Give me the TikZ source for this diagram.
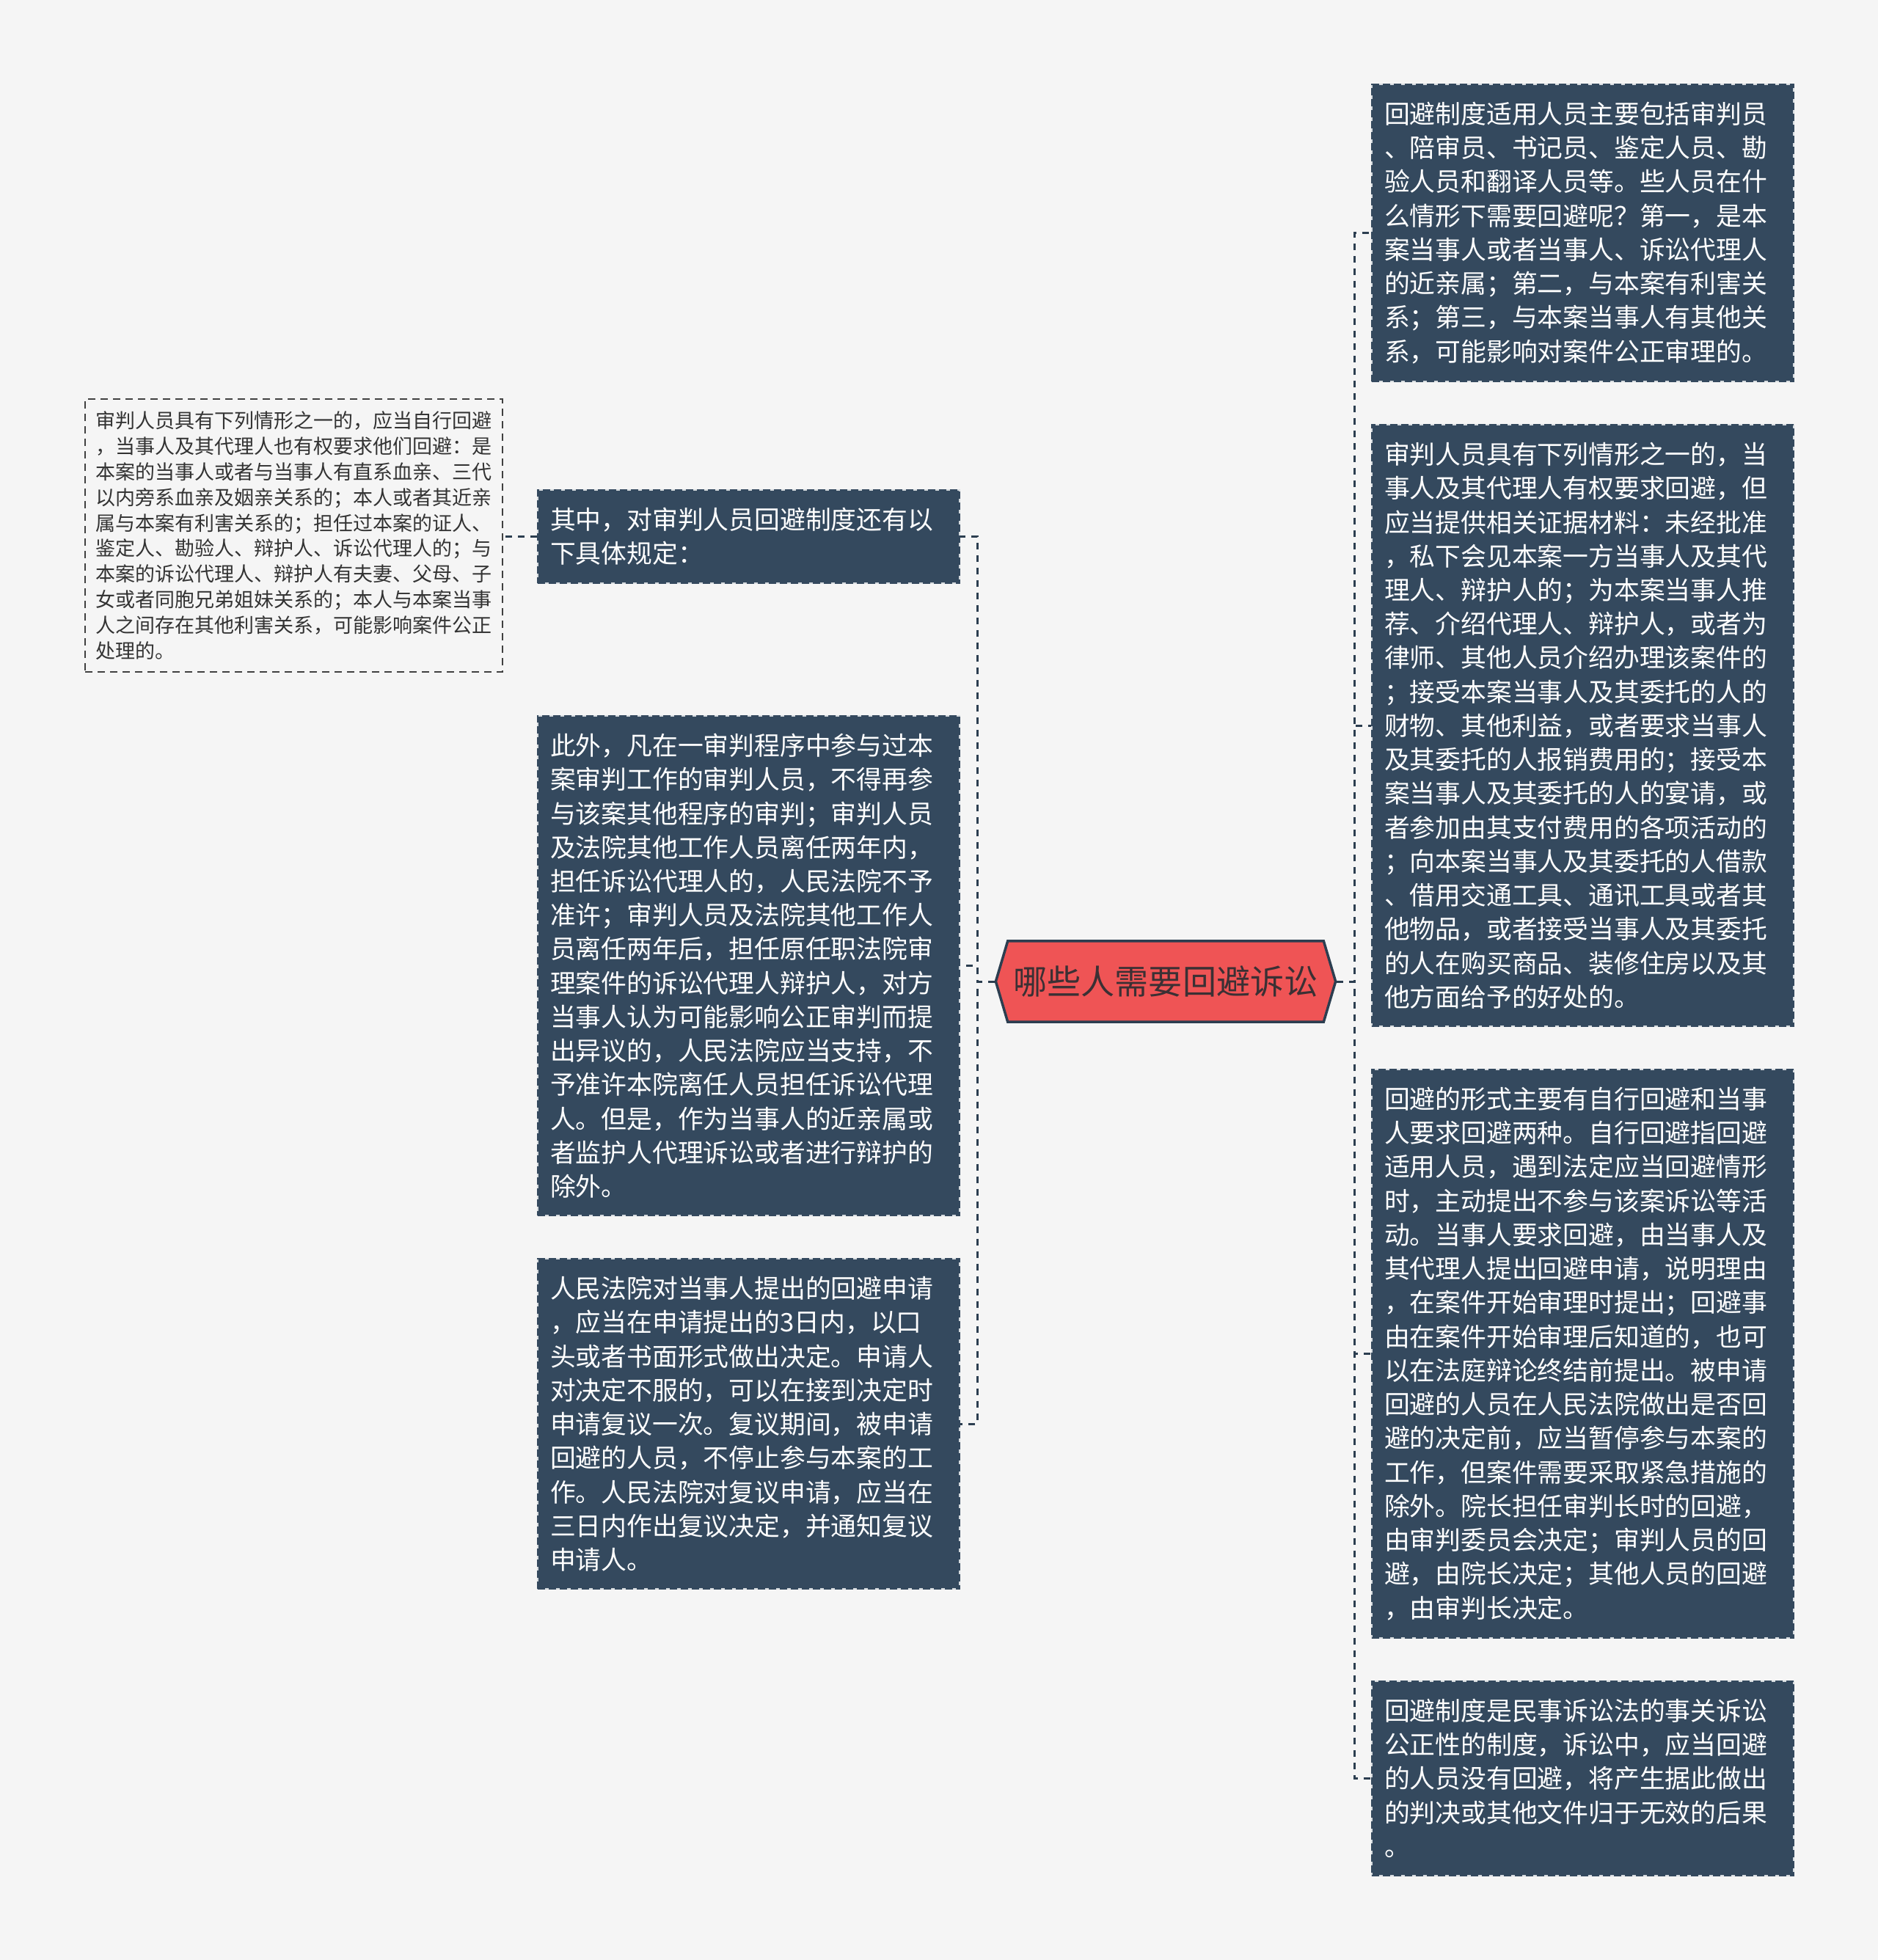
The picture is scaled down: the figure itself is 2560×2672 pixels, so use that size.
\documentclass[tikz,border=0pt]{standalone}
\usepackage{fontspec}
\setmainfont{Noto Sans CJK SC}
\usepackage{xcolor}
\usetikzlibrary{shapes.symbols}

\definecolor{paper}{HTML}{F5F5F5}
\definecolor{boxfill}{HTML}{34495E}
\definecolor{linkcol}{HTML}{2C3E50}
\definecolor{hubred}{HTML}{EF5455}
\definecolor{hubink}{HTML}{3B3034}

\begin{document}
\begin{tikzpicture}[x=0.01cm,y=-0.01cm, % one unit = one pixel of the 2560x2672 sheet
    darkbox/.style={anchor=north west, fill=boxfill, draw=white!80!boxfill, line width=0.02cm,
        postaction={draw=boxfill, line width=0.02cm, dash pattern=on 0.1cm off 0.05cm},
        text=white, align=left, text width=5.41cm, inner xsep=0.17cm, inner ysep=0.24cm,
        font=\fontsize{9.9pt}{13.15pt}\selectfont},
    thinbox/.style={anchor=north west, draw=black!75, line width=0.02cm,
        dash pattern=on 0.1cm off 0.07cm, text=black!80, align=left,
        text width=5.41cm, inner xsep=0.14cm, inner ysep=0.17cm,
        font=\fontsize{7.68pt}{9.9pt}\selectfont},
    hub/.style={shape=signal, signal to=west and east, signal pointer angle=147,
        fill=hubred, draw=linkcol, line width=0.035cm, minimum width=4.63cm,
        minimum height=1.1cm, inner sep=0pt, text=hubink,
        font=\fontsize{13.1pt}{15pt}\selectfont},
    link/.style={draw=linkcol, line width=0.03cm, dash pattern=on 0.09cm off 0.08cm}]

    \fill[paper] (0,0) rectangle (2560,2672); % background sheet
    \useasboundingbox (0,0) rectangle (2560,2672);

    % centre
    \node[hub] (hub) at (1589,1338) {哪些人需要回避诉讼};

    % left branch
    \node[darkbox] (l1) at (732,667) {其中，对审判人员回避制度还有以\\下具体规定：};
    \node[darkbox] (l2) at (732,975) {此外，凡在一审判程序中参与过本\\案审判工作的审判人员，不得再参\\与该案其他程序的审判；审判人员\\及法院其他工作人员离任两年内，\\担任诉讼代理人的，人民法院不予\\准许；审判人员及法院其他工作人\\员离任两年后，担任原任职法院审\\理案件的诉讼代理人辩护人，对方\\当事人认为可能影响公正审判而提\\出异议的，人民法院应当支持，不\\予准许本院离任人员担任诉讼代理\\人。但是，作为当事人的近亲属或\\者监护人代理诉讼或者进行辩护的\\除外。};
    \node[darkbox] (l3) at (732,1715) {人民法院对当事人提出的回避申请\\，应当在申请提出的3日内，以口\\头或者书面形式做出决定。申请人\\对决定不服的，可以在接到决定时\\申请复议一次。复议期间，被申请\\回避的人员，不停止参与本案的工\\作。人民法院对复议申请，应当在\\三日内作出复议决定，并通知复议\\申请人。};
    \node[thinbox] (fl) at (115,543) {审判人员具有下列情形之一的，应当自行回避\\，当事人及其代理人也有权要求他们回避：是\\本案的当事人或者与当事人有直系血亲、三代\\以内旁系血亲及姻亲关系的；本人或者其近亲\\属与本案有利害关系的；担任过本案的证人、\\鉴定人、勘验人、辩护人、诉讼代理人的；与\\本案的诉讼代理人、辩护人有夫妻、父母、子\\女或者同胞兄弟姐妹关系的；本人与本案当事\\人之间存在其他利害关系，可能影响案件公正\\处理的。};

    % right branch
    \node[darkbox] (r1) at (1869,114) {回避制度适用人员主要包括审判员\\、陪审员、书记员、鉴定人员、勘\\验人员和翻译人员等。些人员在什\\么情形下需要回避呢？第一，是本\\案当事人或者当事人、诉讼代理人\\的近亲属；第二，与本案有利害关\\系；第三，与本案当事人有其他关\\系，可能影响对案件公正审理的。};
    \node[darkbox] (r2) at (1869,578) {审判人员具有下列情形之一的，当\\事人及其代理人有权要求回避，但\\应当提供相关证据材料：未经批准\\，私下会见本案一方当事人及其代\\理人、辩护人的；为本案当事人推\\荐、介绍代理人、辩护人，或者为\\律师、其他人员介绍办理该案件的\\；接受本案当事人及其委托的人的\\财物、其他利益，或者要求当事人\\及其委托的人报销费用的；接受本\\案当事人及其委托的人的宴请，或\\者参加由其支付费用的各项活动的\\；向本案当事人及其委托的人借款\\、借用交通工具、通讯工具或者其\\他物品，或者接受当事人及其委托\\的人在购买商品、装修住房以及其\\他方面给予的好处的。};
    \node[darkbox] (r3) at (1869,1457) {回避的形式主要有自行回避和当事\\人要求回避两种。自行回避指回避\\适用人员，遇到法定应当回避情形\\时，主动提出不参与该案诉讼等活\\动。当事人要求回避，由当事人及\\其代理人提出回避申请，说明理由\\，在案件开始审理时提出；回避事\\由在案件开始审理后知道的，也可\\以在法庭辩论终结前提出。被申请\\回避的人员在人民法院做出是否回\\避的决定前，应当暂停参与本案的\\工作，但案件需要采取紧急措施的\\除外。院长担任审判长时的回避，\\由审判委员会决定；审判人员的回\\避，由院长决定；其他人员的回避\\，由审判长决定。};
    \node[darkbox] (r4) at (1869,2291) {回避制度是民事诉讼法的事关诉讼\\公正性的制度，诉讼中，应当回避\\的人员没有回避，将产生据此做出\\的判决或其他文件归于无效的后果\\。};

    % connectors
    \coordinate (lj) at (1332,1338);
    \coordinate (rj) at (1846,1338);
    \foreach \kid in {l1,l2,l3}{
        \draw[link] (hub.west) -- (lj) |- (\kid.east);
    }
    \foreach \kid in {r1,r2,r3,r4}{
        \draw[link] (hub.east) -- (rj) |- (\kid.west);
    }
    \draw[link] (l1.west) -- (l1.west -| fl.east);
\end{tikzpicture}
\end{document}
